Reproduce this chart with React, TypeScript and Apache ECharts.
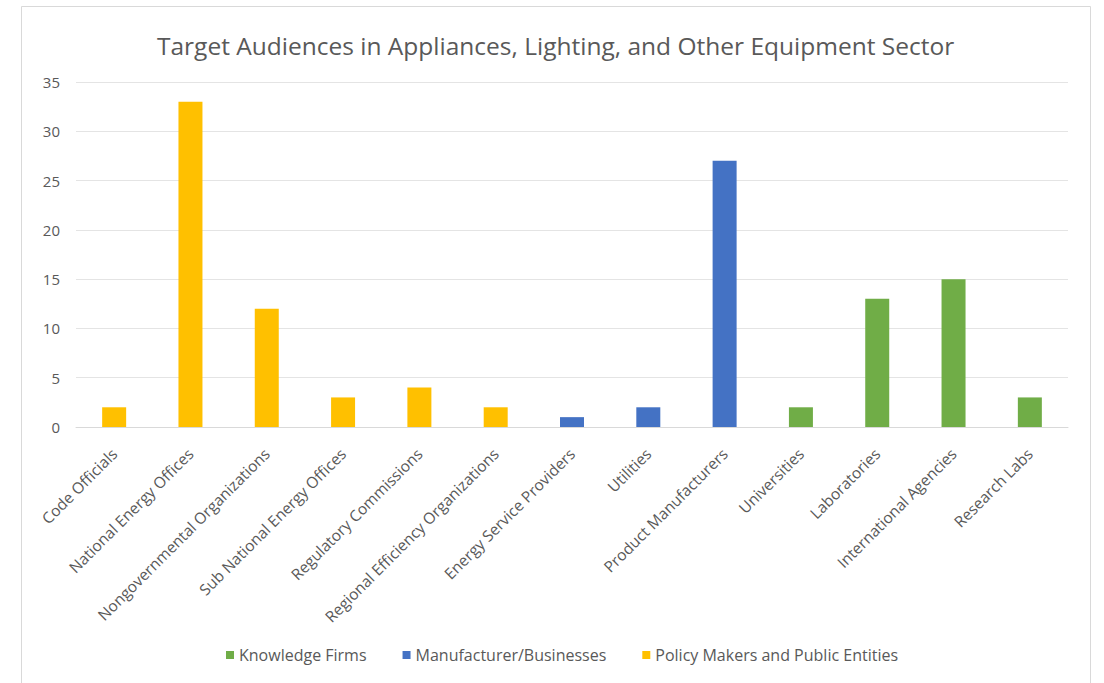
import React, { useEffect, useRef } from "react";
import * as echarts from "echarts";

const categories = [
  "Code Officials",
  "National Energy Offices",
  "Nongovernmental Organizations",
  "Sub National Energy Offices",
  "Regulatory Commissions",
  "Regional Efficiency Organizations",
  "Energy Service Providers",
  "Utilities",
  "Product Manufacturers",
  "Universities",
  "Laboratories",
  "International Agencies",
  "Research Labs",
];

const knowledgeFirms = [null, null, null, null, null, null, null, null, null, 2, 13, 15, 3];
const manufacturers = [null, null, null, null, null, null, 1, 2, 27, null, null, null, null];
const policyMakers = [2, 33, 12, 3, 4, 2, null, null, null, null, null, null, null];

const yTicks = { min: 0, max: 35, interval: 5 };

const FONT = "'Open Sans', Lato, sans-serif";

export default function App() {
  const ref = useRef<HTMLDivElement>(null);
  useEffect(() => {
    document.body.style.margin = "0";
    const chart = echarts.init(ref.current!, null, { renderer: "svg" });
    const barWidth = 24;
    chart.setOption({
      animation: false,
      backgroundColor: "#ffffff",
      title: {
        text: "Target Audiences in Appliances, Lighting, and Other Equipment Sector",
        left: 152,
        top: 28,
        textStyle: { fontFamily: FONT, fontSize: 24.5, fontWeight: "normal", color: "#595959" },
      },
      graphic: [
        {
          type: "rect",
          shape: { x: 21.5, y: 6.5, width: 1069, height: 690 },
          style: { fill: "none", stroke: "#d9d9d9", lineWidth: 1 },
          silent: true,
        },
      ],
      legend: {
        bottom: 15,
        left: 221,
        itemWidth: 8,
        itemHeight: 8,
        itemGap: 36,
        icon: "rect",
        textStyle: { fontFamily: FONT, fontSize: 16, color: "#595959" },
        data: ["Knowledge Firms", "Manufacturer/Businesses", "Policy Makers and Public Entities"],
      },
      grid: { left: 76, right: 36, top: 82, bottom: 256 },
      xAxis: {
        type: "category",
        data: categories,
        axisTick: { show: false },
        axisLine: { lineStyle: { color: "#d9d9d9" } },
        axisLabel: {
          rotate: 45,
          interval: 0,
          margin: 24,
          fontFamily: FONT,
          fontSize: 15.5,
          color: "#595959",
        },
      },
      yAxis: {
        type: "value",
        min: yTicks.min,
        max: yTicks.max,
        interval: yTicks.interval,
        axisLine: { show: false },
        axisTick: { show: false },
        splitLine: { lineStyle: { color: "#e4e4e4" } },
        axisLabel: { fontFamily: FONT, fontSize: 15, color: "#595959", margin: 16 },
      },
      series: [
        {
          name: "Knowledge Firms",
          type: "bar",
          stack: "all",
          barWidth,
          data: knowledgeFirms,
          itemStyle: { color: "#70AD47" },
        },
        {
          name: "Manufacturer/Businesses",
          type: "bar",
          stack: "all",
          barWidth,
          data: manufacturers,
          itemStyle: { color: "#4472C4" },
        },
        {
          name: "Policy Makers and Public Entities",
          type: "bar",
          stack: "all",
          barWidth,
          data: policyMakers,
          itemStyle: { color: "#FFC000" },
        },
      ],
    });
    return () => chart.dispose();
  }, []);
  return <div ref={ref} style={{ width: 1104, height: 683 }} />;
}
